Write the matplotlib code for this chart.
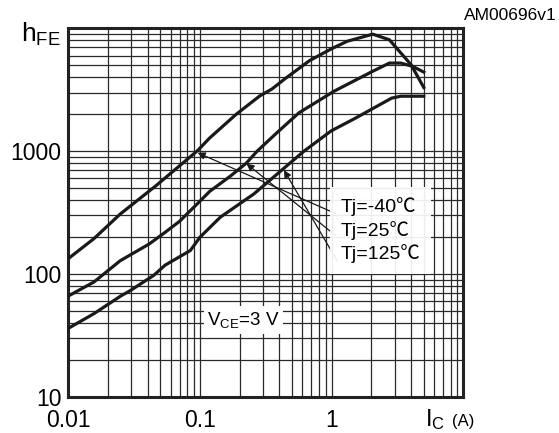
"""
hFE vs collector current curve (log-log) for three junction temperatures.
"""
import matplotlib
matplotlib.use("Agg")
import matplotlib.pyplot as plt

plt.rcParams['font.family'] = ['Liberation Sans', 'Noto Sans CJK JP', 'DejaVu Sans']
plt.rcParams['mathtext.fontset'] = 'custom'
plt.rcParams['mathtext.rm'] = 'Liberation Sans'

# --- data ---
ic_m40 = [0.01, 0.0157, 0.0248, 0.0466, 0.0637, 0.096, 0.1186, 0.189, 0.284,
          0.353, 0.44, 0.68, 0.99, 1.31, 2.05, 2.74, 4.0, 5.0]
hfe_m40 = [133, 194, 307, 525, 697, 1010, 1280, 2000, 2810,
           3210, 3870, 5460, 6790, 7840, 8960, 8070, 5060, 3300]

ic_25 = [0.01, 0.0157, 0.0248, 0.0411, 0.0544, 0.07, 0.1007, 0.1186, 0.171,
         0.2255, 0.272, 0.388, 0.564, 1.04, 2.05, 2.74, 3.35, 4.12, 5.0]
hfe_25 = [66, 86, 128, 175, 218, 268, 394, 470, 628,
          800, 1000, 1426, 2050, 3070, 4470, 5210, 5210, 4900, 4400]

ic_125 = [0.01, 0.0157, 0.025, 0.0295, 0.0444, 0.0545, 0.0845, 0.1, 0.143,
          0.256, 0.434, 0.617, 0.99, 1.48, 2.05, 2.85, 3.35, 5.0]
hfe_125 = [36, 47.5, 66, 73, 97, 118, 155, 199, 290,
           447, 725, 1000, 1460, 1830, 2220, 2700, 2800, 2800]

x_ticks = [0.01, 0.1, 1, 10]
x_labels = ['0.01', '0.1', '1', '']
y_ticks = [10, 100, 1000, 10000]
y_labels = ['10', '100', '1000', '']

# arrow heads (on curves) and tails (at the label box)
arrow_heads = [(0.096, 970), (0.2255, 791), (0.434, 700)]
arrow_tails = [(1.08, 309), (1.08, 204), (1.10, 128)]
temp_labels = ['Tj=-40℃', 'Tj=25℃', 'Tj=125℃']

fig = plt.figure(figsize=(5.59, 4.33), dpi=100)
ax = fig.add_axes([0.122, 0.0838, 0.707, 0.8508])

ax.set_xscale('log')
ax.set_yscale('log')
ax.set_xlim(0.01, 10)
ax.set_ylim(10, 10000)

ax.grid(True, which='both', color='#2a2a2a', linewidth=0.9)
ax.set_axisbelow(True)
for s in ax.spines.values():
    s.set_linewidth(2.2)
    s.set_color('#222222')

ax.set_xticks(x_ticks)
ax.set_xticklabels(x_labels)
ax.set_yticks(y_ticks)
ax.set_yticklabels(y_labels)
ax.tick_params(which='both', length=0)
ax.tick_params(axis='x', labelsize=16.5, pad=9)
ax.tick_params(axis='y', labelsize=16.5, pad=5)

for xs, ys in [(ic_m40, hfe_m40), (ic_25, hfe_25), (ic_125, hfe_125)]:
    ax.plot(xs, ys, color='#1a1a1a', linewidth=2.3, zorder=3)

for head, tail in zip(arrow_heads, arrow_tails):
    ax.annotate('', xy=head, xytext=tail,
                arrowprops=dict(arrowstyle='-|>', color='#1a1a1a', lw=0.9,
                                mutation_scale=11, shrinkA=0, shrinkB=0),
                zorder=4)

ax.text(1.17, 227, '\n'.join(temp_labels), fontsize=14, ha='left', va='center',
        linespacing=1.3, zorder=5,
        bbox=dict(boxstyle='square,pad=0.55', facecolor='white', edgecolor='none', alpha=0.92))

ax.text(0.214, 42, r'$\mathregular{V_{CE}}$=3 V', fontsize=13.5, ha='center', va='center',
        zorder=5, bbox=dict(boxstyle='square,pad=0.2', facecolor='white', edgecolor='none'))

# axis names placed in the tick label slots
fig.text(61 / 559, 1 - 42 / 433, r'$\mathregular{h_{FE}}$', fontsize=19, ha='right', va='baseline')
fig.text(435 / 559, 1 - 426 / 433, r'$\mathregular{I_C}$', fontsize=17, ha='center', va='baseline')
fig.text(452 / 559, 1 - 426 / 433, '(A)', fontsize=12, ha='left', va='baseline')
fig.text(557 / 559, 1 - 15 / 433, 'AM00696v1', fontsize=12.5, ha='right', va='center')

fig.savefig('out.png', dpi=100)
